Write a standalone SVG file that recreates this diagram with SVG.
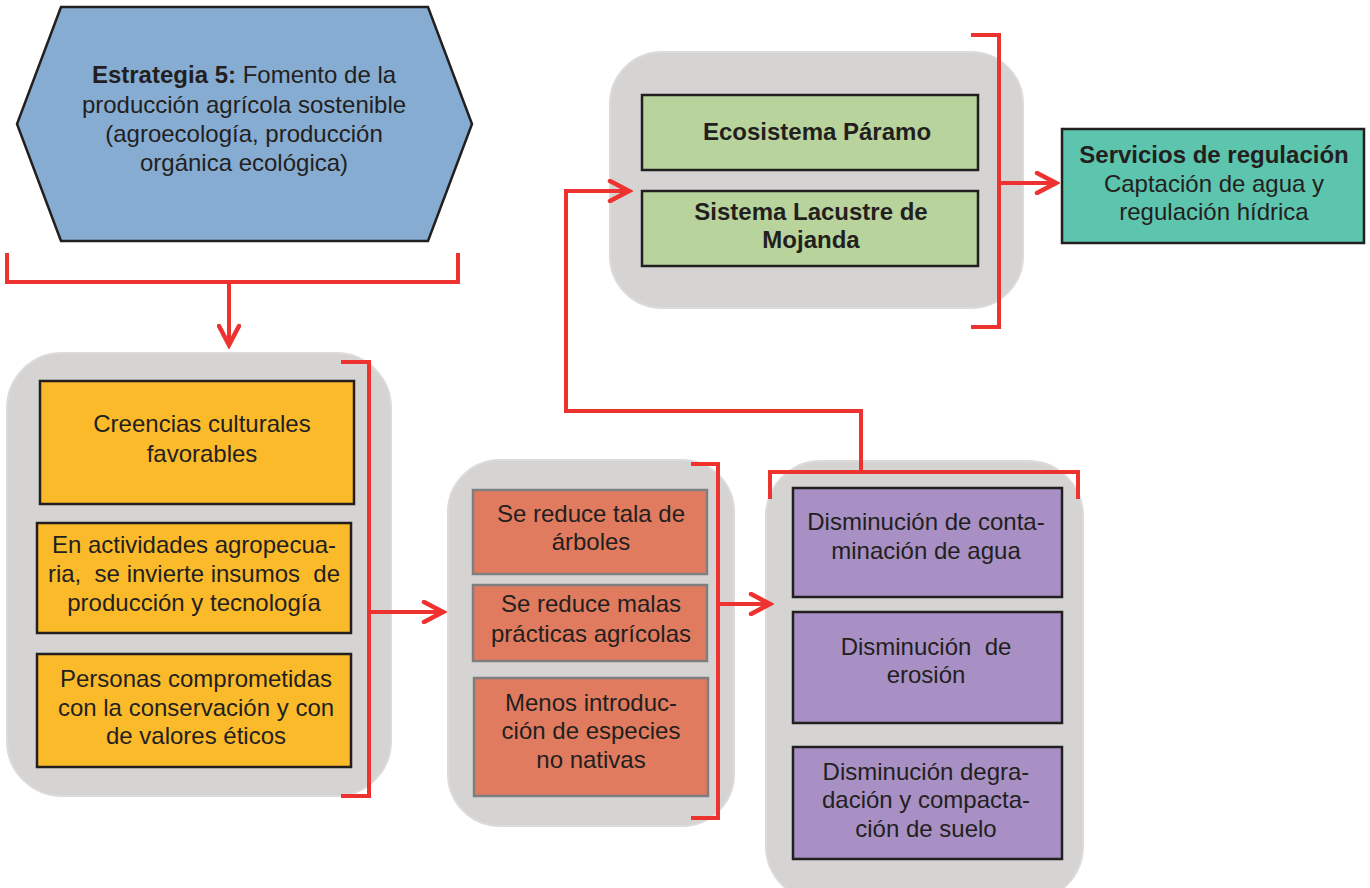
<svg xmlns="http://www.w3.org/2000/svg" width="1370" height="888" viewBox="0 0 1370 888">
<style>
text{font-family:"Liberation Sans",Arial,sans-serif;font-size:24px;fill:#231F20;text-anchor:middle}
.b{font-weight:bold}
.panel{fill:#D5D4D3;stroke:#DCDBDA;stroke-width:2}
.box{stroke:#231F20;stroke-width:2.5}
.wire{fill:none;stroke:#EE3230;stroke-width:4}
</style>
<defs>
<marker id="arr" viewBox="-22 -12 26 24" markerWidth="26" markerHeight="24" refX="0" refY="0" orient="auto" markerUnits="userSpaceOnUse">
<path d="M-19,-10 L0,0 L-19,10" fill="none" stroke="#EE3230" stroke-width="4.5" stroke-linecap="round" stroke-linejoin="miter"/>
</marker>
</defs>
<rect width="1370" height="888" fill="#FFFFFF"/>

<g id="panels">
<rect id="panel-left" class="panel" x="7" y="353" width="384" height="443" rx="55"/>
<rect id="panel-mid" class="panel" x="448" y="460" width="286" height="366" rx="52"/>
<rect id="panel-right" class="panel" x="766" y="461" width="317" height="440" rx="55"/>
<rect id="panel-top" class="panel" x="610" y="52" width="413" height="256" rx="52"/>
</g>

<g id="strategy">
<polygon points="61,7 428,7 472,124 428,241 61,241 17,124" fill="#86ACD2" stroke="#231F20" stroke-width="2.5"/>
<text x="244" y="83"><tspan class="b">Estrategia 5:</tspan> Fomento de la</text>
<text x="244" y="113">producción agrícola sostenible</text>
<text x="244" y="142">(agroecología, producción</text>
<text x="244" y="171">orgánica ecológica)</text>
</g>

<g id="creencias">
<rect class="box" x="40" y="381" width="314" height="123" fill="#FBBA29"/>
<text x="202" y="432">Creencias culturales</text>
<text x="202" y="462">favorables</text>
</g>
<g id="actividades">
<rect class="box" x="37" y="523" width="314" height="110" fill="#FBBA29"/>
<text x="194" y="553">En actividades agropecua-</text>
<text x="194" y="582" xml:space="preserve">ria,  se invierte insumos  de</text>
<text x="194" y="611">producción y tecnología</text>
</g>
<g id="personas">
<rect class="box" x="37" y="654" width="314" height="113" fill="#FBBA29"/>
<text x="196" y="687">Personas comprometidas</text>
<text x="196" y="716">con la conservación y con</text>
<text x="196" y="744">de valores éticos</text>
</g>

<g id="tala">
<rect x="473" y="490" width="234" height="84" fill="#E07B5F" stroke="#7F7F7F" stroke-width="2.5"/>
<text x="591" y="522">Se reduce tala de</text>
<text x="591" y="550">árboles</text>
</g>
<g id="malas">
<rect x="473" y="585" width="234" height="76" fill="#E07B5F" stroke="#7F7F7F" stroke-width="2.5"/>
<text x="591" y="612">Se reduce malas</text>
<text x="591" y="642">prácticas agrícolas</text>
</g>
<g id="especies">
<rect x="474" y="678" width="234" height="118" fill="#E07B5F" stroke="#7F7F7F" stroke-width="2.5"/>
<text x="591" y="711">Menos introduc-</text>
<text x="591" y="739">ción de especies</text>
<text x="591" y="768">no nativas</text>
</g>

<g id="contaminacion">
<rect class="box" x="793" y="488" width="269" height="109" fill="#A890C4"/>
<text x="926" y="530">Disminución de conta-</text>
<text x="926" y="559">minación de agua</text>
</g>
<g id="erosion">
<rect class="box" x="793" y="612" width="269" height="111" fill="#A890C4"/>
<text x="926" y="655" xml:space="preserve">Disminución  de</text>
<text x="926" y="683">erosión</text>
</g>
<g id="degradacion">
<rect class="box" x="793" y="747" width="269" height="112" fill="#A890C4"/>
<text x="926" y="780">Disminución degra-</text>
<text x="926" y="808">dación y compacta-</text>
<text x="926" y="837">ción de suelo</text>
</g>

<g id="paramo">
<rect class="box" x="642" y="95" width="336" height="75" fill="#B8D39B"/>
<text class="b" x="817" y="140">Ecosistema Páramo</text>
</g>
<g id="lacustre">
<rect class="box" x="642" y="191" width="336" height="75" fill="#B8D39B"/>
<text class="b" x="811" y="220">Sistema Lacustre de</text>
<text class="b" x="811" y="248">Mojanda</text>
</g>

<g id="servicios">
<rect class="box" x="1062" y="129" width="302" height="114" fill="#5DC4AD"/>
<text class="b" x="1214" y="163">Servicios de regulación</text>
<text x="1214" y="192">Captación de agua y</text>
<text x="1214" y="220">regulación hídrica</text>
</g>

<g id="connectors">
<path class="wire" d="M7,253 V282 H458 V253"/>
<path class="wire" d="M229,282 V345" marker-end="url(#arr)"/>
<path class="wire" d="M341,362 H369 V796 H341"/>
<path class="wire" d="M369,612 H443" marker-end="url(#arr)"/>
<path class="wire" d="M691,464 H718 V818 H691"/>
<path class="wire" d="M718,604 H770" marker-end="url(#arr)"/>
<path class="wire" d="M770,499 V472 H1078 V499"/>
<path class="wire" d="M861,472 V411 H566 V191 H629" marker-end="url(#arr)"/>
<path class="wire" d="M971,35 H999 V327 H971"/>
<path class="wire" d="M999,183 H1056" marker-end="url(#arr)"/>
</g>
</svg>
